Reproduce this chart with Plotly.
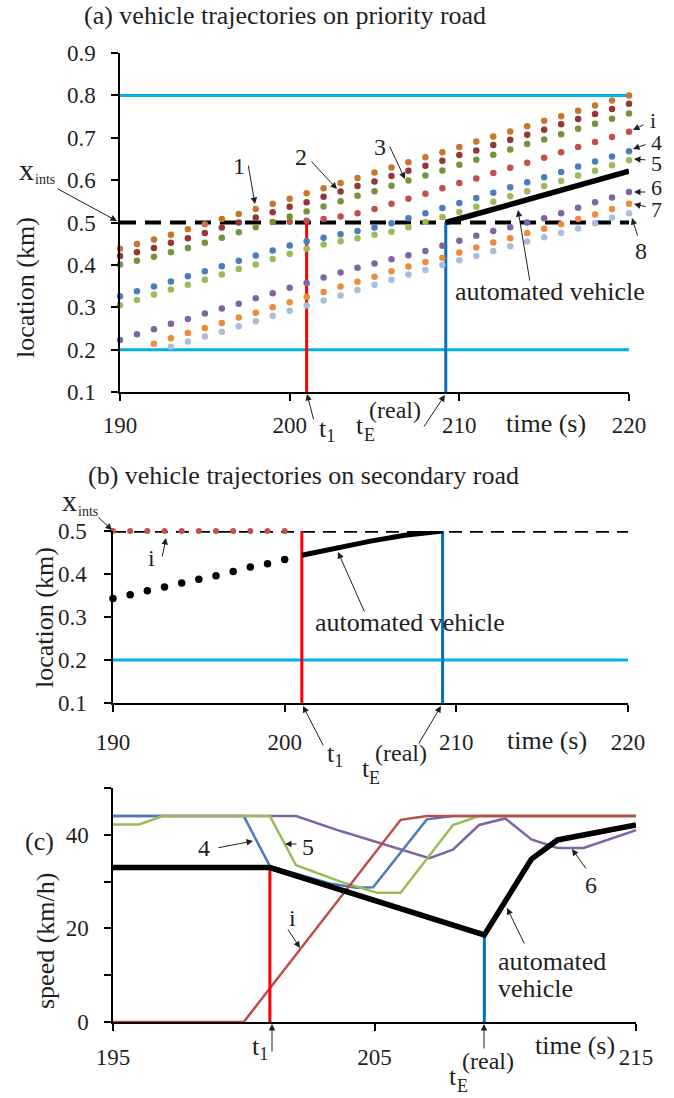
import plotly.graph_objects as go

W, H = 674, 1098
FONT = "Liberation Serif"
INK = "#1f1f1f"

# ---------------- data ----------------
t_grid = list(range(190, 221))          # 1-s samples, priority road
t1 = 201.0                               # time t1
tE = 209.2                               # time tE(real)
x_ints = 0.5                             # intersection location (km)
road_limits = [0.2, 0.8]                 # monitored segment on priority road (km)
road_limit_sec = 0.2                     # monitored start on secondary road (km)

# vehicle locations on the priority road (km)
veh_1 = [0.438, 0.449, 0.460, 0.471, 0.484, 0.496, 0.508, 0.520, 0.532, 0.544, 0.556,
         0.569, 0.581, 0.593, 0.605, 0.618, 0.630, 0.642, 0.654, 0.666, 0.678,
         0.691, 0.703, 0.715, 0.727, 0.740, 0.751, 0.764, 0.776, 0.788, 0.800]
veh_2 = [0.421, 0.430, 0.440, 0.452, 0.463, 0.475, 0.488, 0.500, 0.512, 0.524, 0.537,
         0.548, 0.561, 0.573, 0.586, 0.597, 0.610, 0.622, 0.634, 0.646, 0.659,
         0.670, 0.683, 0.695, 0.707, 0.719, 0.732, 0.744, 0.756, 0.768, 0.780]
veh_3 = [0.401, 0.410, 0.419, 0.430, 0.440, 0.452, 0.464, 0.477, 0.489, 0.501, 0.514,
         0.526, 0.538, 0.550, 0.563, 0.574, 0.587, 0.599, 0.611, 0.623, 0.636,
         0.648, 0.660, 0.672, 0.685, 0.696, 0.708, 0.721, 0.733, 0.745, 0.757]
veh_i = [None, None, None, None, None, None, None, None, None, None, 0.502,
         0.504, 0.508, 0.514, 0.522, 0.532, 0.544, 0.556, 0.568, 0.581, 0.593,
         0.604, 0.617, 0.629, 0.641, 0.653, 0.666, 0.678, 0.690, 0.702, 0.714]
veh_4 = [0.326, 0.338, 0.349, 0.361, 0.373, 0.385, 0.397, 0.410, 0.422, 0.434, 0.446,
         0.456, 0.464, 0.472, 0.480, 0.488, 0.498, 0.510, 0.522, 0.534, 0.546,
         0.558, 0.570, 0.583, 0.595, 0.607, 0.619, 0.632, 0.644, 0.656, 0.668]
veh_5 = [0.305, 0.317, 0.330, 0.342, 0.353, 0.365, 0.377, 0.390, 0.401, 0.414, 0.426,
         0.438, 0.448, 0.456, 0.463, 0.471, 0.478, 0.489, 0.501, 0.513, 0.525,
         0.537, 0.549, 0.562, 0.574, 0.586, 0.598, 0.611, 0.622, 0.635, 0.647]
veh_6 = [0.223, 0.236, 0.248, 0.261, 0.272, 0.285, 0.297, 0.308, 0.321, 0.333, 0.346,
         0.357, 0.370, 0.382, 0.393, 0.403, 0.413, 0.423, 0.433, 0.445, 0.457,
         0.469, 0.480, 0.489, 0.500, 0.510, 0.522, 0.535, 0.548, 0.559, 0.572]
veh_7 = [None, None, 0.214, 0.227, 0.239, 0.251, 0.263, 0.276, 0.287, 0.300, 0.312,
         0.324, 0.336, 0.349, 0.360, 0.372, 0.385, 0.396, 0.407, 0.417, 0.429,
         0.441, 0.453, 0.463, 0.475, 0.485, 0.496, 0.508, 0.519, 0.532, 0.544]
veh_8 = [None, None, None, 0.207, 0.219, 0.231, 0.242, 0.255, 0.267, 0.280, 0.292,
         0.304, 0.316, 0.328, 0.341, 0.353, 0.365, 0.377, 0.388, 0.400, 0.411,
         0.421, 0.433, 0.444, 0.455, 0.465, 0.476, 0.486, 0.498, 0.511, 0.522]
av_prio_t = [209.2, 220.0]
av_prio_x = [0.500, 0.621]

# secondary road
t_sec = list(range(190, 201))
veh_i_sec = [0.5, 0.5, 0.5, 0.5, 0.5, 0.5, 0.5, 0.5, 0.5, 0.5, 0.5]
av_sec_dots = [0.343, 0.352, 0.361, 0.370, 0.379, 0.388, 0.396, 0.406, 0.416, 0.424, 0.434]
av_sec_t = [201.0, 203.0, 205.0, 207.0, 209.2]
av_sec_x = [0.4435, 0.461, 0.4765, 0.490, 0.500]

# speeds (km/h)
spd4_t = [195, 200.0, 201.0, 203.3, 204.3, 204.95, 207.0, 208.0, 215]
spd4_v = [44, 44, 33.3, 29.6, 28.7, 28.8, 43.3, 44, 44]
spd5_t = [195, 196.0, 196.9, 201.0, 202.0, 203.7, 205.1, 206.0, 208.0, 209.0, 215]
spd5_v = [42.2, 42.2, 44, 44, 33.5, 30.0, 27.6, 27.6, 42.1, 44, 44]
spd6_t = [195, 202.0, 203.7, 207.1, 208.0, 209.0, 210.0, 211.0, 212.0, 213.0, 215]
spd6_v = [44, 44, 40.8, 35.0, 36.8, 42.1, 43.5, 39.0, 37.2, 37.2, 41.0]
spdi_t = [195, 200.0, 206.0, 207.0, 215]
spdi_v = [0, 0, 43.2, 44, 44]
spdav_t = [195, 201.0, 209.2, 211.0, 212.0, 215]
spdav_v = [33.0, 33.0, 18.6, 34.8, 38.9, 42.1]

# ---------------- styles ----------------
C1, C2, C3 = "#C5772F", "#963634", "#76923C"
CI = "#C0504D"
C4, C5, C6 = "#4A7EBB", "#9BBB59", "#8064A2"
C7, C8 = "#EE8A3C", "#AABEDB"
SKY, RED, BLUE = "#00B0F0", "#FF0000", "#0070C0"

fig = go.Figure()


def line(x, y, color, width, ax="", dash=None):
    fig.add_trace(go.Scatter(x=x, y=y, mode="lines", xaxis="x" + ax, yaxis="y" + ax,
                             line=dict(color=color, width=width, dash=dash),
                             hoverinfo="skip", showlegend=False, cliponaxis=False))


def dots(x, y, color, size, ax=""):
    fig.add_trace(go.Scatter(x=x, y=y, mode="markers", xaxis="x" + ax, yaxis="y" + ax,
                             marker=dict(color=color, size=size, line=dict(width=0)),
                             hoverinfo="skip", showlegend=False, cliponaxis=False))


# panel (a)
for lim in road_limits:
    line([t_grid[0], t_grid[-1]], [lim, lim], SKY, 3)
line([t_grid[0], t_grid[-1]], [x_ints, x_ints], "black", 4, dash="16px,9px")
line([t1, t1], [0.1, x_ints], RED, 3)
line([tE, tE], [0.1, x_ints], BLUE, 3)
for ys, c in [(veh_8, C8), (veh_7, C7), (veh_6, C6), (veh_5, C5), (veh_4, C4),
              (veh_i, CI), (veh_3, C3), (veh_2, C2), (veh_1, C1)]:
    dots(t_grid, ys, c, 6.5)
line(av_prio_t, av_prio_x, "black", 5.5)

# panel (b)
line([t_grid[0], t_grid[-1]], [road_limit_sec, road_limit_sec], SKY, 3, "2")
line([t_grid[0], t_grid[-1]], [x_ints, x_ints], "black", 3.5, "2", dash="13px,8px")
line([t1, t1], [0.1, x_ints], RED, 3, "2")
line([tE, tE], [0.1, x_ints], BLUE, 3, "2")
dots(t_sec, veh_i_sec, CI, 6, "2")
dots(t_sec, av_sec_dots, "black", 7.5, "2")
line(av_sec_t, av_sec_x, "black", 5, "2")

# panel (c)
line(spd6_t, spd6_v, C6, 2.5, "3")
line(spd4_t, spd4_v, C4, 2.5, "3")
line(spd5_t, spd5_v, C5, 2.5, "3")
line(spdi_t, spdi_v, "#BE4B48", 2.5, "3")
line([t1, t1], [0, spdav_v[1]], RED, 3, "3")
line([tE, tE], [0, spdav_v[2]], BLUE, 3, "3")
line(spdav_t, spdav_v, "black", 5.5, "3")

# ---------------- axes ----------------
tickfont = dict(family=FONT, size=23, color=INK)
base = dict(showline=True, linecolor="black", linewidth=1.5, ticks="outside",
            ticklen=7, tickcolor="black", tickwidth=1.5, showgrid=False,
            zeroline=False, tickfont=tickfont, fixedrange=True, automargin=False)


def dom_x(a, b):
    return [a / W, b / W]


def dom_y(bottom, top):
    return [1 - bottom / H, 1 - top / H]


fig.update_layout(
    template="none",
    width=W, height=H, margin=dict(l=0, r=0, t=0, b=0, pad=0, autoexpand=False),
    font=dict(family=FONT, color=INK),
    paper_bgcolor="white", plot_bgcolor="rgba(0,0,0,0)",
    xaxis=dict(base, domain=dom_x(120, 629), range=[190, 220],
               tickvals=[190, 200, 210, 220], anchor="y", ticklabelstandoff=5),
    yaxis=dict(base, domain=dom_y(392, 53), range=[0.1, 0.9],
               tickvals=[0.1, 0.2, 0.3, 0.4, 0.5, 0.6, 0.7, 0.8, 0.9],
               tickformat=".1f", anchor="x", ticklabelstandoff=11),
    xaxis2=dict(base, domain=dom_x(113, 628), range=[190, 220],
                tickvals=[190, 200, 210, 220], anchor="y2", ticklabelstandoff=11),
    yaxis2=dict(base, domain=dom_y(703, 531), range=[0.1, 0.5],
                tickvals=[0.1, 0.2, 0.3, 0.4, 0.5], tickformat=".1f",
                anchor="x2", ticklabelstandoff=13),
    xaxis3=dict(base, domain=dom_x(113, 636), range=[195, 215],
                tickvals=[195, 205, 215], anchor="y3", ticklabelstandoff=7),
    yaxis3=dict(base, domain=dom_y(1022, 788), range=[0, 50],
                tickvals=[0, 10, 20, 30, 40, 50],
                ticktext=["0", "", "20", "", "40", ""], anchor="x3",
                ticklabelstandoff=11),
)

# ---------------- text and arrows ----------------
ann = []


def text(x, y, s, size=26, xanchor="center", angle=0, align="center"):
    ann.append(dict(x=x / W, y=1 - y / H, xref="paper", yref="paper", text=s,
                    showarrow=False, xanchor=xanchor, yanchor="middle",
                    textangle=angle, align=align, borderpad=0,
                    font=dict(family=FONT, size=size, color=INK)))


def arrow(tail, head, width=1.0):
    ann.append(dict(x=head[0] / W, y=1 - head[1] / H, xref="paper", yref="paper",
                    ax=tail[0] - head[0], ay=tail[1] - head[1], axref="pixel",
                    ayref="pixel", text="", showarrow=True, arrowhead=2,
                    arrowsize=1.3, arrowwidth=width, arrowcolor=INK, standoff=0))


def t_real(x_t, y_t):
    # "t" with subscript "E" and a raised "(real)"
    text(x_t, y_t, "t", size=26)
    text(x_t + 9, y_t + 10, "E", size=18)
    text(x_t + 8, y_t - 15, "(real)", size=24, xanchor="left")


# panel (a)
text(83, 16, "(a) vehicle trajectories on priority road", xanchor="left")
text(25, 288, "location (km)", angle=-90)
text(546, 423, "time (s)")
text(26, 169, "x", size=30)
text(45, 180, "ints", size=14)
arrow((56, 188), (117, 221))
text(239, 166, "1", size=24)
arrow((248, 164), (255, 204))
text(301, 157, "2", size=24)
arrow((310, 160), (337, 189))
text(380, 147, "3", size=24)
arrow((389, 145), (405, 179))
text(653, 120, "i", size=22)
arrow((645, 124), (633, 130))
text(656, 142, "4", size=22)
arrow((647, 144), (633, 149))
text(656, 164, "5", size=22)
arrow((647, 160), (634, 159))
text(656, 187, "6", size=22)
arrow((647, 192), (634, 192))
text(656, 209, "7", size=22)
arrow((647, 207), (634, 204))
text(641, 251, "8", size=24)
arrow((638, 237), (632, 218))
text(550, 292, "automated vehicle")
arrow((530, 282), (518, 210))
text(327, 430, "t<sub>1</sub>")
arrow((314, 421), (307, 394))
t_real(360, 425)
arrow((423, 428), (445, 395))

# panel (b)
text(87, 476, "(b) vehicle trajectories on secondary road", xanchor="left")
text(44, 618, "location (km)", angle=-90)
text(547, 740, "time (s)")
text(69, 500, "x", size=30)
text(88, 511, "ints", size=14)
arrow((97, 516), (112, 530))
text(151, 558, "i", size=24)
arrow((162, 558), (166, 538))
text(410, 622, "automated vehicle")
arrow((365, 613), (338, 552))
text(335, 755, "t<sub>1</sub>")
arrow((324, 747), (303, 706))
t_real(366, 768)
arrow((418, 745), (441, 706))

# panel (c)
text(39, 841, "(c)")
text(45, 941, "speed (km/h)", angle=-90)
text(575, 1045, "time (s)")
text(204, 848, "4", size=24)
arrow((217, 848), (253, 841))
text(308, 847, "5", size=24)
arrow((298, 844), (285, 844))
text(292, 918, "i", size=24)
arrow((287, 928), (300, 948))
text(591, 885, "6", size=24)
arrow((587, 870), (572, 849))
text(497, 961, "automated", xanchor="left")
text(497, 988, "vehicle", xanchor="left")
arrow((525, 945), (507, 908))
text(260, 1048, "t<sub>1</sub>")
arrow((272, 1053), (272, 1024))
t_real(453, 1076)
arrow((484, 1050), (484, 1024))

fig.update_layout(annotations=ann)
fig.write_html("out.html")
